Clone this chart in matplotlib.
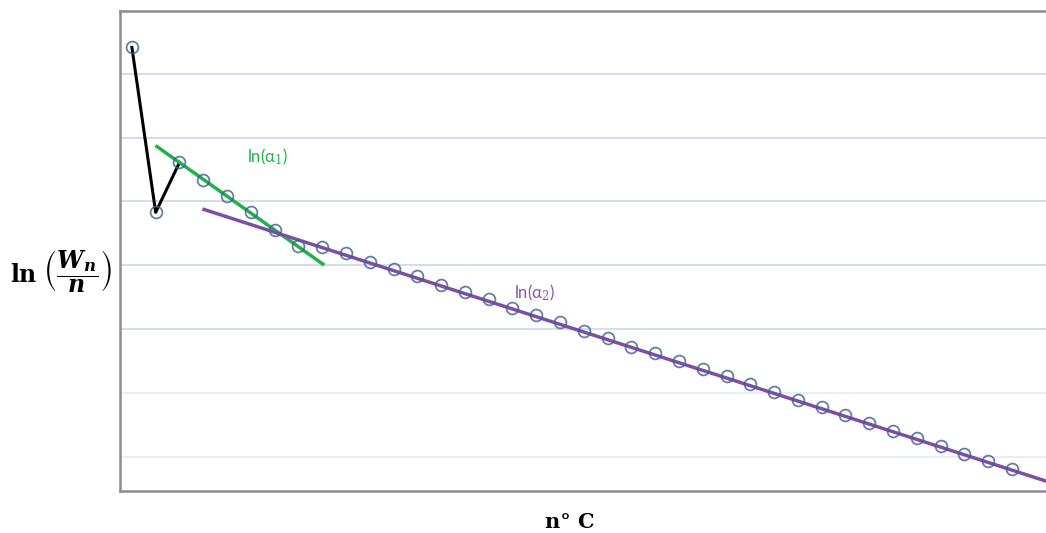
import numpy as np
import matplotlib.pyplot as plt

# measured points (index along x, ln(Wn/n) in gridline units)
n = list(range(1, 39))
lnw = [7.41, 4.83, 5.61, 5.34, 5.08, 4.83, 4.56, 4.31, 4.28, 4.19,
       4.06, 3.95, 3.83, 3.70, 3.58, 3.47, 3.34, 3.22, 3.11, 2.98,
       2.86, 2.73, 2.63, 2.50, 2.38, 2.27, 2.14, 2.02, 1.89, 1.78,
       1.66, 1.53, 1.41, 1.30, 1.17, 1.05, 0.94, 0.81]

# fitted lines
fit1_x = [2.05, 9.03]
fit1_y = [5.86, 4.02]
fit2_x = [4.03, 39.43]
fit2_y = [4.875, 0.625]

grid_y = [1, 2, 3, 4, 5, 6, 7]

plt.rcParams['mathtext.fontset'] = 'dejavuserif'

fig = plt.figure(figsize=(10.46, 5.33), dpi=100)
ax = fig.add_axes([120/1046, 42/533, 926/1046, 480/533])

for g in grid_y:
    ax.axhline(g, color='#c9d6f1' if g > 2 else '#e3eaf8', lw=1.2, zorder=0)

ax.plot(n[:3], lnw[:3], color='black', lw=2.2, zorder=2)
ax.plot(fit1_x, fit1_y, color='#1fb24a', lw=2.5, zorder=3)
ax.plot(fit2_x, fit2_y, color='#7d4fa3', lw=2.5, zorder=3)
ax.plot(n, lnw, 'o', ms=8.5, mfc='none', mec='#3f5f92', mew=1.3, alpha=0.8, zorder=4)

fig.text(247/1046, 1 - 157/533, r'ln(α$_1$)', color='#1fb24a', fontsize=12,
         family='Lato', va='center')
fig.text(514/1046, 1 - 293/533, r'ln(α$_2$)', color='#8a52b0', fontsize=12,
         family='Lato', va='center')

ax.set_xlim(0.5, 39.43)
ax.set_ylim(0.47, 7.98)
ax.set_xticks([])
ax.set_yticks([])
for s in ['left', 'bottom', 'top']:
    ax.spines[s].set_color('#8c8c8c')
    ax.spines[s].set_linewidth(1.8)
ax.spines['right'].set_visible(False)

fig.text(10/1046, 1 - 272/533, r'$\mathbf{ln}\ \left(\dfrac{\mathbfit{W_n}}{\mathbfit{n}}\right)$',
         fontsize=17, va='center', ha='left')
fig.text(570/1046, 1 - 522/533, 'n° C', fontsize=15, fontweight='bold',
         family='DejaVu Serif', ha='center', va='center')

fig.savefig('out.png', dpi=100)
